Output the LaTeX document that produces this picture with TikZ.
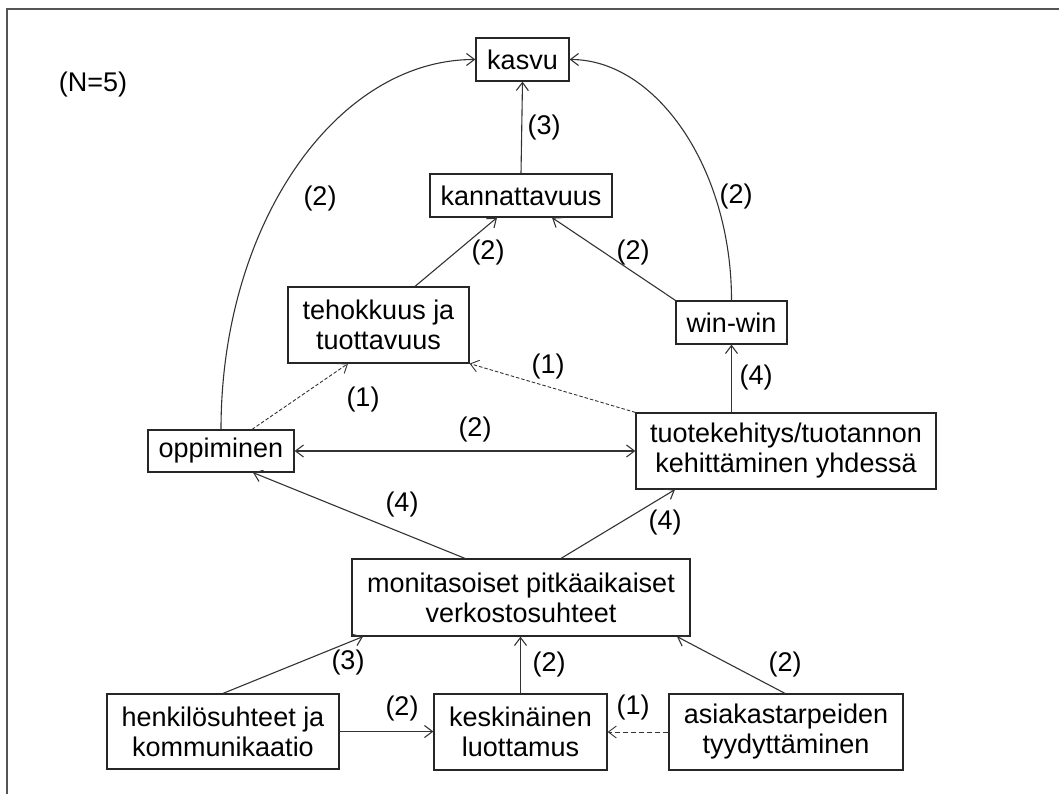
\documentclass[tikz,border=0pt]{standalone}
\usepackage{fontspec}
\setmainfont{Liberation Sans}
\usetikzlibrary{arrows.meta, positioning}
\definecolor{frameGrey}{HTML}{555555}
\definecolor{lineGrey}{HTML}{333333}
\tikzset{
  conn/.style   = {-{Straight Barb[length=8pt,width=12pt]}, line width=1.1pt, lineGrey},
  weak/.style   = {conn, dash pattern=on 3.5pt off 2pt, line width=0.9pt},
  lbl/.style    = {inner sep=0pt, font=\fontsize{27}{30}\selectfont},
}

\begin{document}
\begin{tikzpicture}[x=1pt,y=-1pt,
    box/.style={draw=black!85, line width=1.2pt, align=center, inner sep=0pt,
                font=\fontsize{27}{30}\selectfont}]
  \useasboundingbox (0,0) rectangle (1059,794);
  \draw[frameGrey, line width=1.5pt] (7,800) -- (7,9) -- (1065,9);
  \node[lbl] (nlabel) at (93,85) {(N=5)};
  \node[box, minimum width=93, minimum height=43] (kasvu) at (522.5,59.5) {kasvu};
  \node[box, minimum width=182, minimum height=43] (kann) at (521,195.5) {kannattavuus};
  \node[box, minimum width=181, minimum height=76] (teho) at (378.5,325) {tehokkuus ja\\tuottavuus};
  \node[box, minimum width=111, minimum height=43] (winwin) at (731.5,322.5) {win-win};
  \node[box, minimum width=146, minimum height=42] (oppi) at (221,451) {oppiminen};
  \node[box, minimum width=300, minimum height=76] (tuote) at (786,451) {tuotekehitys/tuotannon\\kehittäminen yhdessä};
  \node[box, minimum width=338, minimum height=77] (moni) at (521,597.5) {monitasoiset pitkäaikaiset\\verkostosuhteet};
  \node[box, minimum width=232, minimum height=75] (henk) at (223,731.5) {henkilösuhteet ja\\kommunikaatio};
  \node[box, minimum width=173, minimum height=76] (luott) at (520.5,732) {keskinäinen\\luottamus};
  \node[box, minimum width=234, minimum height=76] (asiak) at (786,732) {asiakastarpeiden\\tyydyttäminen};
  \draw[conn] (kann.north) -- (kasvu.south);
  \draw[conn] ([xshift=36.5]teho.north) -- ([xshift=-24]kann.south);
  \draw[conn] (winwin.north west) -- ([xshift=31]kann.south);
  \draw[conn] (winwin.north) .. controls +(0,-133) and +(86,0) .. (kasvu.east);
  \draw[conn] (oppi.north) .. controls +(0,-204) and +(-140,0) .. (kasvu.west);
  \draw[weak] ([xshift=31]oppi.north) -- ([xshift=-30.5]teho.south);
  \draw[weak] (tuote.north west) -- (teho.south east);
  \draw[conn] (winwin.south |- tuote.north) -- (winwin.south);
  \draw[conn, {Straight Barb[length=8pt,width=12pt]}-{Straight Barb[length=8pt,width=12pt]}] (oppi.east) -- (tuote.west);
  \draw[conn] ([xshift=-56]moni.north) -- ([xshift=32]oppi.south);
  \draw[conn] ([xshift=40]moni.north) -- ([xshift=-111]tuote.south);
  \draw[conn] (henk.north) -- ([xshift=-158]moni.south);
  \draw[conn] (luott.north) -- (luott.north |- moni.south);
  \draw[conn] ([xshift=-1]asiak.north) -- ([xshift=156]moni.south);
  \draw[conn] (henk.east) -- (henk.east -| luott.west);
  \draw[weak, dash pattern=on 5pt off 3pt] (asiak.west) -- (asiak.west -| luott.east);
  \node[lbl] (l3top) at (544,128) {(3)};
  \node[lbl] (l2teho) at (488,253) {(2)};
  \node[lbl] (l2win) at (633,253) {(2)};
  \node[lbl] (l2right) at (736,197) {(2)};
  \node[lbl] (l2left) at (320,199) {(2)};
  \node[lbl] (l1oppi) at (363,400) {(1)};
  \node[lbl] (l1tuote) at (548,367) {(1)};
  \node[lbl] (l4win) at (756,378) {(4)};
  \node[lbl] (l2mid) at (475,430) {(2)};
  \node[lbl] (l4oppi) at (402,505) {(4)};
  \node[lbl] (l4tuote) at (665,523) {(4)};
  \node[lbl] (l3henk) at (348,663) {(3)};
  \node[lbl] (l2luott) at (549,665) {(2)};
  \node[lbl] (l2asiak) at (785,665) {(2)};
  \node[lbl] (l2henk) at (402,709) {(2)};
  \node[lbl] (l1asiak) at (633,708) {(1)};
\end{tikzpicture}
\end{document}
